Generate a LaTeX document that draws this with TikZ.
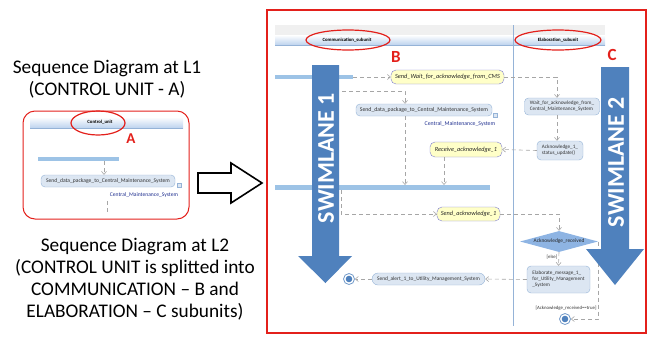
\documentclass[tikz,border=0pt]{standalone}
\usepackage{fontspec}
\setmainfont{Carlito}
\usetikzlibrary{arrows.meta,shapes.geometric,calc}
\definecolor{arrowblue}{HTML}{4F81BD}
\definecolor{barblue}{HTML}{9DC3E6}
\definecolor{actfill}{HTML}{DCE6F2}
\definecolor{actdraw}{HTML}{95B3D7}
\definecolor{yfill}{HTML}{FFFFC8}
\definecolor{ydraw}{HTML}{7F7FD0}
\definecolor{hdrblue}{HTML}{BDD3EE}
\definecolor{dashgray}{HTML}{A6A6A6}
\definecolor{txtblue}{HTML}{1F2F8F}
\definecolor{redc}{HTML}{E3201B}
\definecolor{diafill}{HTML}{8EB4E3}
\begin{document}
\begin{tikzpicture}[x=1pt,y=-1pt,
  bigtext/.style={font=\fontsize{19.3}{21.8}\selectfont, align=center, text=black},
  tinyf/.style={font=\fontsize{5.8}{6.4}\selectfont},
  act/.style={tinyf, draw=actdraw, fill=actfill, rounded corners=4pt, inner sep=0pt, text=black!80},
  yact/.style={font=\fontsize{6.3}{7}\itshape, draw=ydraw, fill=yfill, rounded corners=5pt, inner sep=0pt, text=black!85},
  conn/.style={draw=dashgray, dash pattern=on 4pt off 3pt, line width=0.6pt, -{Straight Barb[length=3pt,width=5pt]}},
  plainconn/.style={draw=dashgray, dash pattern=on 4pt off 3pt, line width=0.6pt},
  forkbar/.style={draw=barblue, line width=4.5pt},
  hdr/.style={top color=white, bottom color=hdrblue, draw=none},
  redell/.style={draw=redc, line width=1.2pt},
  redlab/.style={text=redc, font=\bfseries\fontsize{17}{17}\selectfont},
  swim/.style={fill=arrowblue},
  swimtext/.style={text=white, font=\bfseries\fontsize{24}{24}\selectfont, rotate=90},
  fin/.style={circle, minimum size=11pt, inner sep=0pt, draw=arrowblue!80, line width=0.8pt, fill=white,
    path picture={\fill[arrowblue] (path picture bounding box.center) circle (3.3pt);}},
  icon/.style={draw=actdraw, fill=actfill, minimum size=3.5pt, inner sep=0pt},
  cmstext/.style={tinyf, text=txtblue}
]
\useasboundingbox (0,0) rectangle (651,338);

% ---------------- left texts ----------------
\node[bigtext, anchor=base] (t1) at (107,95) {Sequence Diagram at L1\\(CONTROL UNIT - A)};
\node[bigtext, anchor=base] (t2) at (135,317) {Sequence Diagram at L2\\(CONTROL UNIT is splitted into\\COMMUNICATION -- B and\\ELABORATION -- C subunits)};

% ---------------- left panel ----------------
\draw[draw=redc, line width=1pt, rounded corners=12pt] (23,111) rectangle (189,219);
\shade[hdr] (30,117) rectangle (183,128);
\draw[actdraw] (30,128) -- (183,128);
\node[font=\bfseries\fontsize{4.8}{5}\selectfont] (cu) at (100,122.5) {Control\_unit};
\draw[redell] (98,123) ellipse (27pt and 12pt);
\node[redlab, font=\bfseries\fontsize{15}{15}\selectfont] (la) at (131,139) {A};
\draw[forkbar] (38,159) -- (119,159);
\coordinate (lb) at (104,161);
\node[act, font=\fontsize{5.6}{6}\selectfont, minimum width=134pt, minimum height=12pt] (lsend) at (108,181) {Send\_data\_package\_to\_Central\_Maintenance\_System};
\node[icon] (lic) at (179,185) {};
\node[cmstext, font=\fontsize{5.6}{6}\selectfont] (lcms) at (144,195) {Central\_Maintenance\_System};
\draw[conn] (lb) -- (lb |- lsend.north);
\coordinate (ll1) at (107,201);
\coordinate (ll2) at (107,214);
\draw[plainconn] (ll1) -- (ll2);

% ---------------- outline arrow ----------------
\draw[line width=1.6pt, fill=white, line join=miter] (198,173) -- (231,173) -- (231,163) -- (262,183) -- (231,203) -- (231,193) -- (198,193) -- cycle;

% ---------------- right panel ----------------
\draw[draw=redc, line width=1.5pt] (267,10) rectangle (646,333);
\fill[black!6] (275,25) rectangle (605,35);
\shade[hdr] (275,35) rectangle (605,45);
\draw[actdraw] (275,45) -- (605,45);
\draw[actdraw, line width=0.8pt] (513,25) -- (513,326);
\node[font=\bfseries\fontsize{4.8}{5}\selectfont] (hc) at (347,40) {Communication\_subunit};
\node[font=\bfseries\fontsize{4.8}{5}\selectfont] (he) at (558,40) {Elaboration\_subunit};

% fork bars
\draw[forkbar] (275,77) -- (353,77);
\draw[forkbar] (275,187.5) -- (490,187.5);
\coordinate (b1e) at (353,77);
\coordinate (c1) at (342,91);
\coordinate (b2a) at (341,190);
\coordinate (b2s) at (405,185);
\coordinate (b2r) at (444,185);

% activity nodes
\node[yact, minimum width=113pt, minimum height=14pt] (sendwait) at (447.5,77) {Send\_Wait\_for\_acknowledge\_from\_CMS};
\node[act, minimum width=136pt, minimum height=12pt] (senddata) at (424,110) {Send\_data\_package\_to\_Central\_Maintenance\_System};
\node[icon] (ric) at (495,115) {};
\node[cmstext] (rcms) at (460,124) {Central\_Maintenance\_System};
\node[yact, minimum width=72pt, minimum height=15pt] (recv) at (466,149.5) {Receive\_acknowledge\_1};
\node[act, minimum width=75pt, minimum height=17pt, align=left, font=\fontsize{5.2}{6}\selectfont] (wait) at (562,106.5) {Wait\_for\_acknowledge\_from\_\\Central\_Maintenance\_System};
\node[act, minimum width=46pt, minimum height=19pt, align=left, font=\fontsize{5.2}{6}\selectfont] (ack) at (560,150.5) {Acknowledge\_1\_\\status\_update()};
\node[yact, minimum width=63pt, minimum height=14pt] (sendack) at (468.5,214) {Send\_acknowledge\_1};
\node[diamond, aspect=3.7, fill=diafill, draw=none, inner sep=0pt, minimum width=78pt, minimum height=21pt, font=\fontsize{5.4}{6}\selectfont, text=black!85] (dia) at (559,241.5) {Acknowledge\_received};
\node[act, minimum width=63pt, minimum height=27pt, align=left, font=\fontsize{5.2}{6}\selectfont] (elab) at (558.5,279.5) {Elaborate\_message\_1\_\\for\_Utility\_Management\\\_System};
\node[act, minimum width=113pt, minimum height=12pt, rounded corners=6pt, font=\fontsize{5.4}{6}\selectfont] (alert) at (428.5,279) {Send\_alert\_1\_to\_Utility\_Management\_System};
\node[fin] (fin1) at (349,279) {};
\node[fin] (fin2) at (565,319) {};
\node[font=\fontsize{4.8}{5}\selectfont, text=black!80] (lelse) at (552,257.5) {[else]};
\node[font=\fontsize{4.8}{5}\selectfont, text=black!80] (ltrue) at (566,308) {[Acknowledge\_received==true]};

% connectors
\draw[conn] (b1e) -- (sendwait.west);
\draw[conn] (sendwait.east) -| ([xshift=-5pt]wait.north);
\draw[conn] (c1) -| ([xshift=-19pt]senddata.north);
\draw[conn] ([xshift=-19pt]senddata.south) -- (b2s);
\draw[conn] ([xshift=-5pt]wait.south) -- ([xshift=-3pt]ack.north);
\draw[conn] (ack.west) -- (recv.east);
\draw[conn] ([xshift=-22pt]recv.south) -- (b2r);
\draw[conn] (b2a) |- (sendack.west);
\draw[conn] (sendack.east) -| (dia.north);
\draw[conn] (dia.south) -- (elab.north);
\draw[conn] (elab.west) -- (alert.east);
\draw[conn] (alert.west) -- (fin1.east);
\draw[conn] (dia.east) |- (fin2.east);

% swimlane arrows (drawn on top)
\fill[swim] (312,65) -- (339,65) -- (339,256) -- (352,256) -- (325.5,283) -- (298,256) -- (312,256) -- cycle;
\node[swimtext] (s1) at (326,158) {SWIMLANE 1};
\fill[swim] (601,67) -- (629,67) -- (629,249) -- (644,249) -- (615,285) -- (586,249) -- (601,249) -- cycle;
\node[swimtext] (s2) at (616,162) {SWIMLANE 2};

% red ellipses and labels
\draw[redell] (348,40) ellipse (42pt and 10pt);
\draw[redell] (558,40) ellipse (43pt and 10pt);
\node[redlab] (lbb) at (396,57) {B};
\node[redlab] (lcc) at (612,55) {C};
\end{tikzpicture}
\end{document}
